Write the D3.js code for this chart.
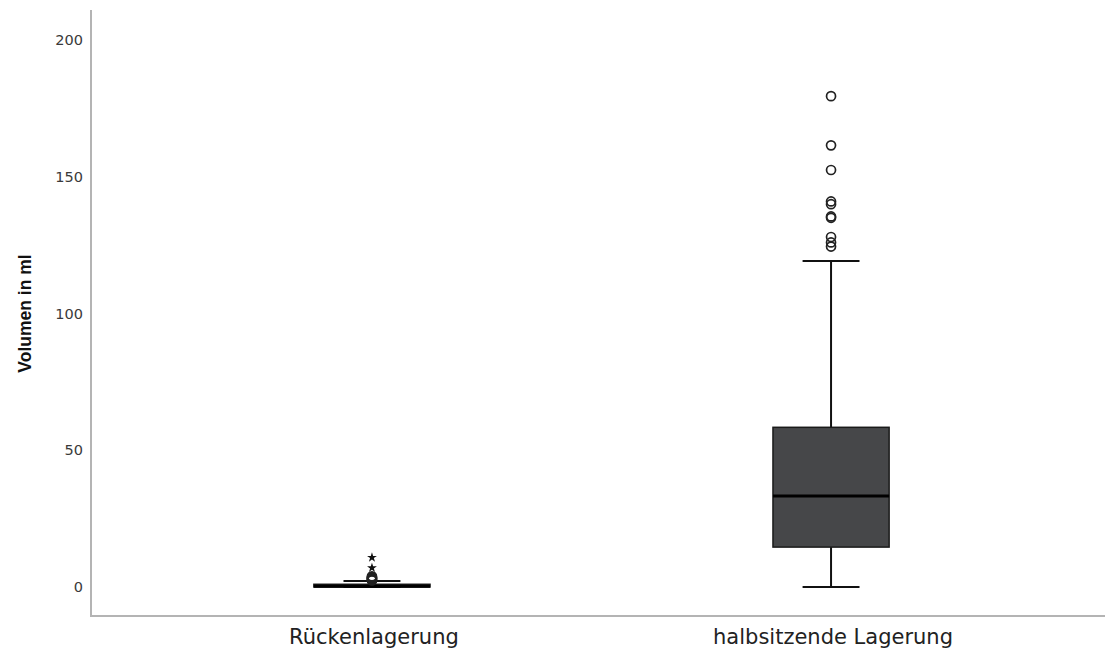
<!DOCTYPE html>
<html>
<head>
<meta charset="utf-8">
<script src="https://cdn.jsdelivr.net/npm/d3@7"></script>
<style>
  html, body { margin: 0; padding: 0; background: #fff; }
  svg { display: block; }
</style>
</head>
<body>
<svg id="chart" width="1105" height="652"></svg>
<script>
// Groups and box statistics (ml)
const categories = ["Rückenlagerung", "halbsitzende Lagerung"];
const whiskerLow  = [0, 0];
const q1          = [0, 14.6];
const median      = [0.3, 33.3];
const q3          = [1.0, 58.4];
const whiskerHigh = [2.2, 119.2];

// Outliers: circles (mild) and stars (extreme)
const outlierGroup  = [0, 0, 0, 0, 0, 0, 0, 0, 1, 1, 1, 1, 1, 1, 1, 1, 1, 1];
const outlierValues = [2.4, 2.6, 2.8, 3.0, 3.2, 3.4, 3.6, 3.9,
                       179.5, 161.5, 152.5, 141, 140, 135.5, 135, 128, 126, 124.5];
const extremeGroup  = [0, 0];
const extremeValues = [7.0, 10.8];

const yTicks = [0, 50, 100, 150, 200];

const svg = d3.select("#chart");

const x = d3.scaleBand()
  .domain(categories)
  .range([91, 1112])
  .paddingInner(0)
  .paddingOuter(0.112);

const y = d3.scaleLinear()
  .domain([-10.6, 211])
  .range([616, 10]);

const boxW = x.bandwidth() * 0.253;
const capW = x.bandwidth() * 0.124;
const cx = c => x(c) + x.bandwidth() / 2;

// Axes lines
svg.append("line")
  .attr("x1", 91).attr("x2", 91)
  .attr("y1", y.range()[1]).attr("y2", y.range()[0])
  .attr("stroke", "#b4b4b4").attr("stroke-width", 2);
svg.append("line")
  .attr("x1", 90).attr("x2", 1105)
  .attr("y1", 616).attr("y2", 616)
  .attr("stroke", "#b4b4b4").attr("stroke-width", 2);

// Y tick labels
svg.append("g").selectAll("text")
  .data(yTicks).join("text")
  .attr("x", 83)
  .attr("y", d => y(d))
  .attr("dy", "0.36em")
  .attr("text-anchor", "end")
  .attr("font-family", "DejaVu Sans, sans-serif")
  .attr("font-size", 14.5)
  .attr("fill", "#3a3a3a")
  .text(d => d);

// Category labels
svg.append("g").selectAll("text")
  .data(categories).join("text")
  .attr("x", d => cx(d) + 2)
  .attr("y", 644)
  .attr("text-anchor", "middle")
  .attr("font-family", "DejaVu Sans, sans-serif")
  .attr("font-size", 21)
  .attr("fill", "#222")
  .text(d => d);

// Y title
svg.append("text")
  .attr("transform", `translate(31,${y(100)}) rotate(-90)`)
  .attr("text-anchor", "middle")
  .attr("font-family", "'Liberation Sans', Arial, sans-serif")
  .attr("font-weight", "bold")
  .attr("font-size", 17.5)
  .attr("fill", "#111")
  .text("Volumen in ml");

// Boxes
const boxes = svg.append("g").selectAll("g")
  .data(categories).join("g");

boxes.append("line")
  .attr("x1", d => cx(d)).attr("x2", d => cx(d))
  .attr("y1", (d, i) => y(q3[i])).attr("y2", (d, i) => y(whiskerHigh[i]))
  .attr("stroke", "#111").attr("stroke-width", 2);
boxes.append("line")
  .attr("x1", d => cx(d)).attr("x2", d => cx(d))
  .attr("y1", (d, i) => y(q1[i])).attr("y2", (d, i) => y(whiskerLow[i]))
  .attr("stroke", "#111").attr("stroke-width", 2);
boxes.append("line")
  .attr("x1", d => cx(d) - capW / 2).attr("x2", d => cx(d) + capW / 2)
  .attr("y1", (d, i) => y(whiskerHigh[i])).attr("y2", (d, i) => y(whiskerHigh[i]))
  .attr("stroke", "#111").attr("stroke-width", 2);
boxes.append("line")
  .attr("x1", d => cx(d) - capW / 2).attr("x2", d => cx(d) + capW / 2)
  .attr("y1", (d, i) => y(whiskerLow[i])).attr("y2", (d, i) => y(whiskerLow[i]))
  .attr("stroke", "#111").attr("stroke-width", 2);
boxes.append("rect")
  .attr("x", d => cx(d) - boxW / 2)
  .attr("width", boxW)
  .attr("y", (d, i) => y(q3[i]))
  .attr("height", (d, i) => y(q1[i]) - y(q3[i]))
  .attr("fill", "#464749")
  .attr("stroke", "#1a1a1a").attr("stroke-width", 1.5);
boxes.append("line")
  .attr("x1", d => cx(d) - boxW / 2).attr("x2", d => cx(d) + boxW / 2)
  .attr("y1", (d, i) => y(median[i])).attr("y2", (d, i) => y(median[i]))
  .attr("stroke", "#000").attr("stroke-width", 3);

// Outlier circles
svg.append("g").selectAll("circle")
  .data(outlierValues).join("circle")
  .attr("cx", (d, i) => cx(categories[outlierGroup[i]]))
  .attr("cy", d => y(d))
  .attr("r", 4.5)
  .attr("fill", "none")
  .attr("stroke", "#222")
  .attr("stroke-width", 1.7);

// Extreme values as stars
svg.append("g").selectAll("path")
  .data(extremeValues).join("path")
  .attr("transform", (d, i) => `translate(${cx(categories[extremeGroup[i]])},${y(d)})`)
  .attr("d", d3.symbol().type(d3.symbolStar).size(30))
  .attr("fill", "#111");
</script>
</body>
</html>
